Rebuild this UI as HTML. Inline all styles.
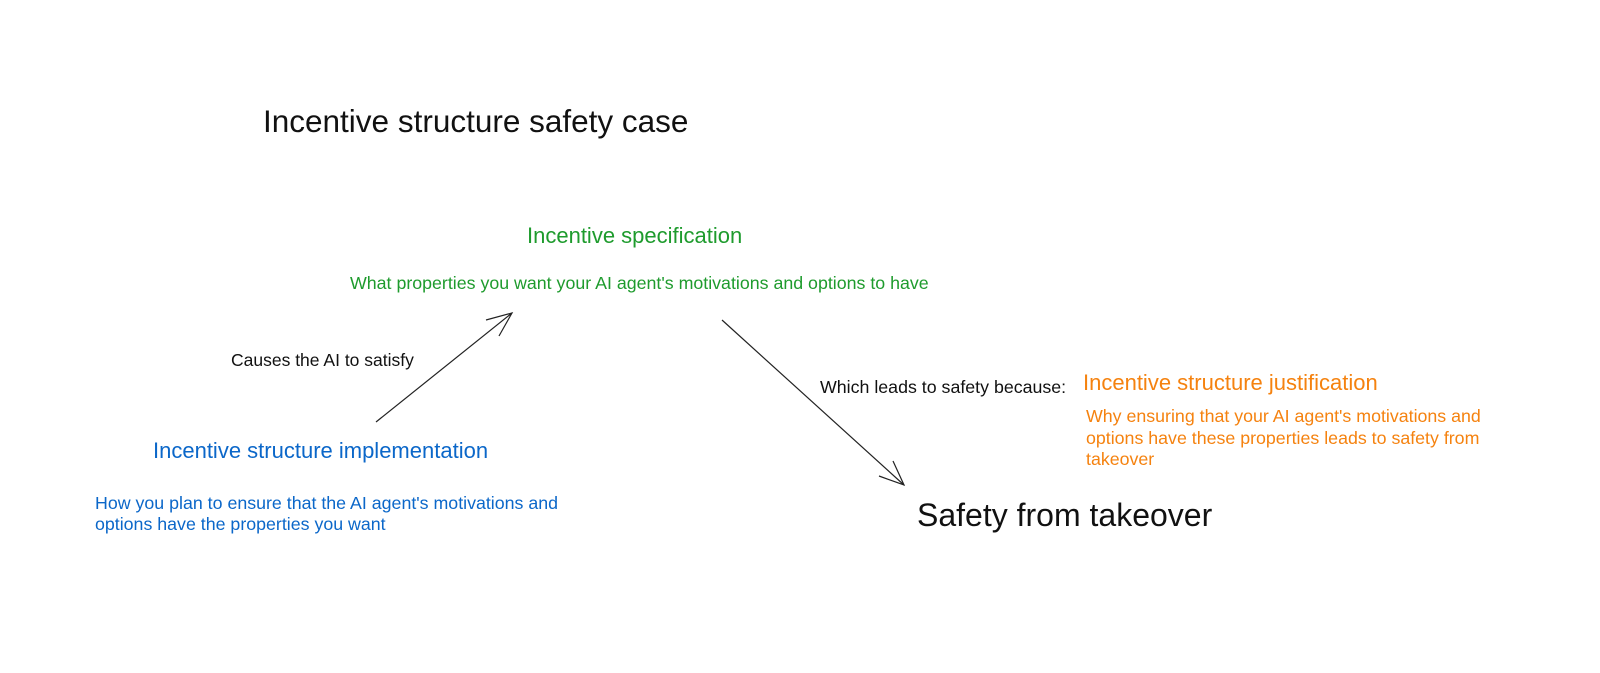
<!DOCTYPE html>
<html><head><meta charset="utf-8"><style>
body{margin:0;width:1600px;height:673px;background:#fff;position:relative;overflow:hidden;font-family:"Liberation Sans",sans-serif}
.t{position:absolute;white-space:nowrap;line-height:1.15}
.g{color:#1e9b2d}.b{color:#0b67c9}.o{color:#f5820f}.k{color:#111}
</style></head><body>
<div class="t k" style="left:263px;top:103px;font-size:31.5px">Incentive structure safety case</div>
<div class="t g" style="left:527px;top:223px;font-size:22px">Incentive specification</div>
<div class="t g" style="left:350px;top:273px;font-size:17.8px">What properties you want your AI agent's motivations and options to have</div>
<div class="t k" style="left:231px;top:350px;font-size:17.5px">Causes the AI to satisfy</div>
<div class="t b" style="left:153px;top:438px;font-size:22px">Incentive structure implementation</div>
<div class="t b" style="left:95px;top:493px;font-size:17.8px;line-height:21px">How you plan to ensure that the AI agent's motivations and<br>options have the properties you want</div>
<div class="t k" style="left:820px;top:377px;font-size:17.8px">Which leads to safety because:</div>
<div class="t o" style="left:1083px;top:370px;font-size:22px">Incentive structure justification</div>
<div class="t o" style="left:1086px;top:406px;font-size:17.8px;line-height:21.5px">Why ensuring that your AI agent's motivations and<br>options have these properties leads to safety from<br>takeover</div>
<div class="t k" style="left:917px;top:497px;font-size:32px">Safety from takeover</div>
<svg width="1600" height="673" style="position:absolute;left:0;top:0" fill="none" stroke="#222" stroke-width="1.2">
<line x1="376" y1="422" x2="512" y2="313"/>
<polyline points="486,320 512,313 499,336"/>
<line x1="722" y1="320" x2="904" y2="485"/>
<polyline points="893,461 904,485 879,476"/>
</svg>
</body></html>
